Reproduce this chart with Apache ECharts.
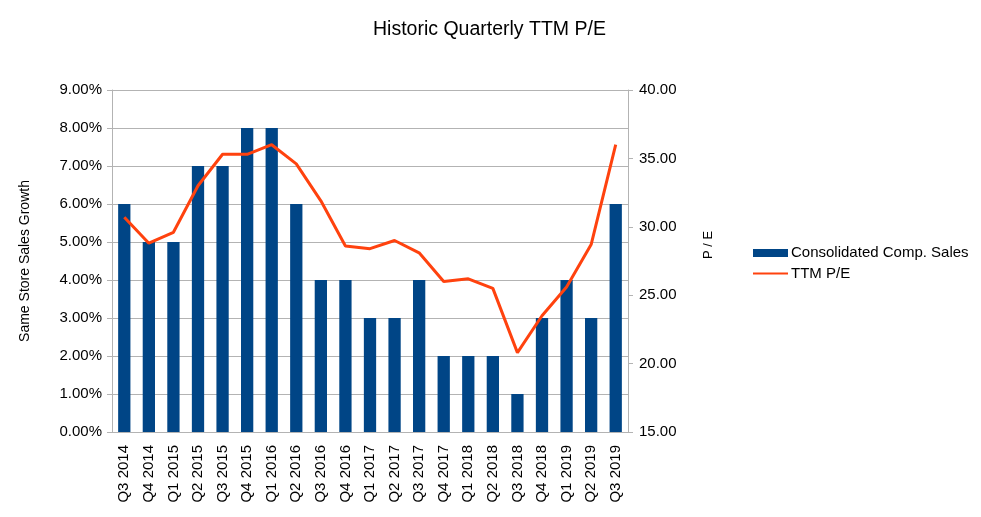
<!DOCTYPE html>
<html><head><meta charset="utf-8">
<script src="https://cdn.jsdelivr.net/npm/echarts@6/dist/echarts.min.js"></script>
<style>html,body{margin:0;padding:0;background:#fff}#c{width:981px;height:517px}</style>
</head><body><div id="c"></div>
<script>
var categories = ["Q3 2014","Q4 2014","Q1 2015","Q2 2015","Q3 2015","Q4 2015","Q1 2016","Q2 2016","Q3 2016","Q4 2016","Q1 2017","Q2 2017","Q3 2017","Q4 2017","Q1 2018","Q2 2018","Q3 2018","Q4 2018","Q1 2019","Q2 2019","Q3 2019"];
var compSales = [6,5,5,7,7,8,8,6,4,4,3,3,4,2,2,2,1,3,4,3,6];
var ttmPE = [30.7,28.8,29.6,33.0,35.3,35.3,36.0,34.6,31.9,28.6,28.4,29.0,28.1,26.0,26.2,25.5,20.8,23.5,25.6,28.7,36.0];

var font = "'Liberation Sans', Arial, sans-serif";
var chart = echarts.init(document.getElementById('c'));
chart.setOption({
  animation: false,
  backgroundColor: '#fff',
  title: {
    text: 'Historic Quarterly TTM P/E',
    left: 368, top: 15,
    textStyle: {fontFamily: font, fontSize: 19.5, fontWeight: 'normal', color: '#000'}
  },
  legend: {
    orient: 'vertical', left: 747, top: 240, itemGap: 5,
    itemWidth: 35, itemHeight: 16,
    textStyle: {fontFamily: font, fontSize: 15, color: '#000', padding: [0,0,0,-2]},
    data: [
      {name: 'Consolidated Comp. Sales', icon: 'path://M0,0 L0,0 M0,4 L35,4 L35,12 L0,12 Z M35,16 L35,16'},
      {name: 'TTM P/E', itemStyle: {opacity: 0}, lineStyle: {width: 2}}
    ]
  },
  grid: {left: 112, right: 353, top: 90, bottom: 85},
  xAxis: {
    type: 'category', data: categories,
    axisLine: {lineStyle: {color: '#b3b3b3'}},
    axisTick: {alignWithLabel: false, length: 5, lineStyle: {color: '#b3b3b3'}},
    axisLabel: {rotate: 90, interval: 0, fontFamily: font, fontSize: 15, color: '#000', margin: 13}
  },
  yAxis: [
    {
      type: 'value', min: 0, max: 9, interval: 1,
      name: 'Same Store Sales Growth', nameLocation: 'middle', nameGap: 80, nameRotate: 90,
      nameTextStyle: {fontFamily: font, fontSize: 14, color: '#000'},
      axisLine: {show: true, lineStyle: {color: '#b3b3b3'}},
      axisTick: {show: true, length: 5, lineStyle: {color: '#b3b3b3'}},
      splitLine: {lineStyle: {color: '#b3b3b3'}},
      axisLabel: {fontFamily: font, fontSize: 15, color: '#000', margin: 10,
        formatter: function(v){return v.toFixed(2)+'%';}}
    },
    {
      type: 'value', min: 15, max: 40, interval: 5, position: 'right',
      axisLine: {show: true, lineStyle: {color: '#b3b3b3'}},
      axisTick: {show: true, length: 5, lineStyle: {color: '#b3b3b3'}},
      splitLine: {show: false},
      axisLabel: {fontFamily: font, fontSize: 15, color: '#000', margin: 11,
        formatter: function(v){return v.toFixed(2);}}
    }
  ],
  graphic: [{
    type: 'text', x: 708, y: 245, rotation: Math.PI / 2,
    style: {text: 'P / E', fontFamily: font, fontSize: 13, fill: '#000', align: 'center', verticalAlign: 'middle'}
  }],
  series: [
    {
      name: 'Consolidated Comp. Sales', type: 'bar', data: compSales,
      barWidth: '50%', itemStyle: {color: '#004586'}, yAxisIndex: 0
    },
    {
      name: 'TTM P/E', type: 'line', data: ttmPE, yAxisIndex: 1,
      symbol: 'none', lineStyle: {color: '#ff420e', width: 3}, itemStyle: {color: '#ff420e'}
    }
  ]
});
</script></body></html>
